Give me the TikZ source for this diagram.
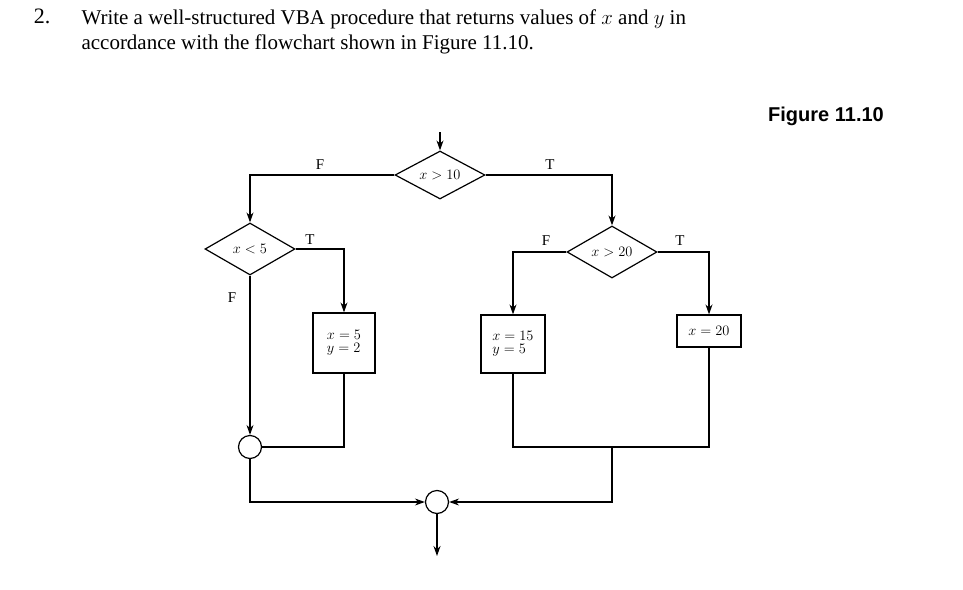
\documentclass[tikz,border=0pt]{standalone}
\usepackage{fontspec}
\setmainfont{Liberation Serif}
\newfontfamily\figfont{Liberation Sans}
\usetikzlibrary{shapes.geometric,arrows.meta}
\begin{document}
\begin{tikzpicture}[x=1pt,y=-1pt,
  line/.style={draw,line width=1.2pt},
  arr/.style={line,-{Stealth[length=10pt,width=7pt]}},
  dec/.style={diamond,draw,line width=1.2pt,inner sep=0pt,aspect=1.8,font=\fontsize{15}{16}\selectfont},
  box/.style={draw,line width=1.2pt,align=left,font=\fontsize{15}{16}\selectfont,inner sep=3pt},
  junc/.style={circle,draw,line width=1.2pt,minimum size=23pt,inner sep=0pt},
  lab/.style={font=\fontsize{15}{16}\selectfont}]
\useasboundingbox (0,0) rectangle (963,589);
\node[font=\fontsize{22}{24}\selectfont] (num) at (42,16) {2.};
\node[anchor=west,font=\fontsize{21}{23}\selectfont] (t1) at (78,19) {Write a well-structured VBA procedure that returns values of $x$ and $y$ in};
\node[anchor=west,font=\fontsize{21}{23}\selectfont] (t2) at (78,44) {accordance with the flowchart shown in Figure 11.10.};
\node[font=\figfont\bfseries\fontsize{20}{22}\selectfont] (fig) at (826,116) {Figure 11.10};

\node[dec,minimum width=90pt,minimum height=48pt] (d1) at (440,175) {$x>10$};
\node[dec,minimum width=90pt,minimum height=52pt] (d2) at (250,249) {$x<5$};
\node[dec,minimum width=90pt,minimum height=52pt] (d3) at (612,252) {$x>20$};
\node[box,minimum width=62pt,minimum height=60pt] (b1) at (344,343) {$x=5$\\[-3pt]$y=2$};
\node[box,minimum width=64pt,minimum height=58pt] (b2) at (513,344) {$x=15$\\[-3pt]$y=5$};
\node[box,minimum width=64pt,minimum height=32pt] (b3) at (709,331) {$x=20$};
\node[junc] (j1) at (250,447) {};
\node[junc] (j2) at (437,502) {};
\coordinate (in) at (440,132);
\coordinate (out) at (437,556);

\draw[arr] (in) -- (d1.north);
\draw[arr] (d1.west) -| (d2.north);
\draw[arr] (d1.east) -| (d3.north);
\draw[arr] (d2.east) -| (b1.north);
\draw[arr] (d2.south) -- (j1.north);
\draw[line] (b1.south) |- (j1.east);
\draw[arr] (d3.west) -| (b2.north);
\draw[arr] (d3.east) -| (b3.north);
\draw[line] (b2.south) |- (b3.south |- j1) -- (b3.south);
\draw[arr] (612,447) |- (j2.east);
\draw[arr] (j1.south) |- (j2.west);
\draw[arr] (j2.south) -- (out);

\node[lab] at (320,165) {F};
\node[lab] at (550,165) {T};
\node[lab] at (310,240) {T};
\node[lab] at (232,298) {F};
\node[lab] at (546,241) {F};
\node[lab] at (680,241) {T};
\end{tikzpicture}
\end{document}
